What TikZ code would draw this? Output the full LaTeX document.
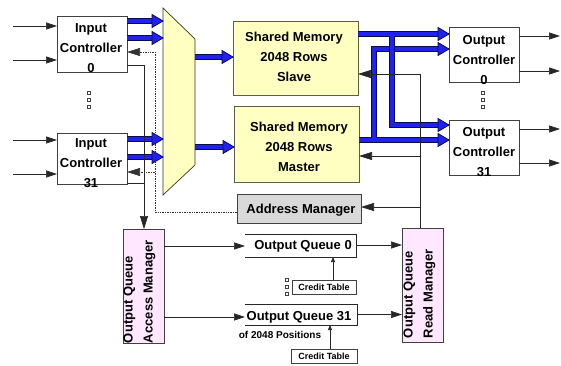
\documentclass[tikz,border=0pt]{standalone}
\usepackage{fontspec}
\setmainfont{Liberation Sans}
\usetikzlibrary{arrows.meta,calc}
\definecolor{memfill}{HTML}{FFFFC2}
\definecolor{memedge}{HTML}{5E5E45}
\definecolor{mgrfill}{HTML}{FFE8FF}
\definecolor{addrfill}{HTML}{D9D9D9}
\definecolor{busblue}{HTML}{2222EE}
\definecolor{busedge}{HTML}{0A0A50}
\begin{document}
\begin{tikzpicture}[x=1pt,y=-1pt,
  every node/.style={inner sep=0pt, outer sep=0pt},
  txt/.style={font=\fontsize{13}{20}\selectfont\bfseries, align=center},
  box/.style={draw=black!75, line width=0.7pt, fill=white},
  membox/.style={draw=memedge, line width=1pt, fill=memfill},
  mgrbox/.style={draw=black!75, line width=0.8pt, fill=mgrfill},
  wire/.style={draw=black!85, line width=0.7pt},
  tip/.style={-{Triangle[length=11pt,width=7pt]}},
  bigtip/.style={-{Triangle[length=13pt,width=8pt]}},
  smalltip/.style={-{Triangle[length=5pt,width=4pt]}},
  dotwire/.style={draw=black!80, line width=0.7pt, densely dotted},
  busout/.style={line width=6.5pt, draw=busedge, shorten >=10pt},
  busin/.style={line width=4.5pt, draw=busblue, shorten >=10pt},
  bustip/.pic={\filldraw[fill=busblue, draw=busedge, line width=0.8pt, line join=miter] (0,0) -- (-11,-6.5) -- (-11,6.5) -- cycle;},
  dotcol/.pic={\foreach \k in {0,7,14} \draw[black!75, line width=0.6pt] (-1.6,\k-1.6) rectangle (1.6,\k+1.6);}
]
\useasboundingbox (0,0) rectangle (561,365);

% ---------- blocks ----------
\node[box, minimum width=70pt, minimum height=56pt] (ic0) at (92,44) {};
\node[box, minimum width=70pt, minimum height=51pt] (ic31) at (92,158.5) {};
\filldraw[fill=memfill, draw=black!80, line width=0.7pt] (163,8) -- (195,39) -- (195,165) -- (163,195) -- cycle;
\coordinate (muxL) at (163,100);
\coordinate (muxR) at (195,100);
\node[membox, minimum width=125pt, minimum height=74pt] (slave) at (295.5,58) {};
\node[membox, minimum width=125pt, minimum height=76pt] (master) at (296.5,144) {};
\node[box, minimum width=70pt, minimum height=55pt] (oc0) at (484,54.5) {};
\node[box, minimum width=70pt, minimum height=55pt] (oc31) at (484,147.5) {};
\node[box, fill=addrfill, minimum width=124pt, minimum height=29pt] (addr) at (299,208.5) {};
\node[mgrbox, minimum width=41pt, minimum height=114pt] (am) at (143.5,286) {};
\node[mgrbox, minimum width=41pt, minimum height=114pt] (rm) at (422.5,285) {};
\node[minimum width=111pt, minimum height=23pt] (oq0) at (300.5,245.5) {};
\node[minimum width=112pt, minimum height=21pt] (oq31) at (301,314.5) {};
\draw[wire] (oq0.north west) -- (oq0.north east) -- (oq0.south east) -- (oq0.south west);
\draw[wire] (oq31.north west) -- (oq31.north east) -- (oq31.south east) -- (oq31.south west);
\node[box, minimum width=64pt, minimum height=14pt, font=\fontsize{9}{10}\selectfont\bfseries] (ct0) at (324,287) {Credit Table};
\node[box, minimum width=66pt, minimum height=14pt, font=\fontsize{9}{10}\selectfont\bfseries] (ct31) at (324,356) {Credit Table};

% ---------- ports ----------
\coordinate (lrim) at (13,0);
\coordinate (rrim) at (560,0);
\coordinate (i0a) at ([yshift=23pt]ic0.east);
\coordinate (i0b) at ([yshift=6pt]ic0.east);
\coordinate (i31a) at ([yshift=19.5pt]ic31.east);
\coordinate (i31b) at ([yshift=1.5pt]ic31.east);
\coordinate (sIn) at ([yshift=1pt]slave.west);
\coordinate (mIn) at ([yshift=-3pt]master.west);
\coordinate (sOut) at ([yshift=24pt]slave.east);
\coordinate (mOut) at ([yshift=4pt]master.east);
\coordinate (o0b) at ([yshift=5.5pt]oc0.west);
\coordinate (o31a) at ([yshift=22.5pt]oc31.west);
\coordinate (sx) at (392,0);
\coordinate (mx) at (374,0);

% ---------- external inputs and outputs ----------
\foreach \n/\a/\b in {ic0/18/-16, ic31/18.5/-15.5}{
  \draw[wire, tip] ([yshift=\a pt]\n.west -| lrim) -- ([yshift=\a pt]\n.west);
  \draw[wire, tip] ([yshift=\b pt]\n.west -| lrim) -- ([yshift=\b pt]\n.west);
}
\foreach \n/\a/\b in {oc0/18.5/-16.5, oc31/18.5/-15.5}{
  \draw[wire, tip] ([yshift=\a pt]\n.east) -- ([yshift=\a pt]\n.east -| rrim);
  \draw[wire, tip] ([yshift=\b pt]\n.east) -- ([yshift=\b pt]\n.east -| rrim);
}

% ---------- data buses ----------
\foreach \s in {i0a,i0b,i31a,i31b}{
  \draw[busout] (\s) -- (\s -| muxL);
  \draw[busin] (\s) -- (\s -| muxL);
  \pic at (\s -| muxL) {bustip};
}
\foreach \s in {sIn,mIn}{
  \draw[busout] (\s -| muxR) -- (\s);
  \draw[busin] (\s -| muxR) -- (\s);
  \pic at (\s) {bustip};
}
% master memory to both output controllers
\draw[busout] (mOut) -- (mOut -| oc31.west);
\draw[busout] (mOut -| mx) -- (mx |- o0b) -- (o0b);
\draw[busin] (mOut) -- (mOut -| oc31.west);
\draw[busin] (mOut -| mx) -- (mx |- o0b) -- (o0b);
\pic at (mOut -| oc31.west) {bustip};
\pic at (o0b) {bustip};
% slave memory to both output controllers
\draw[busout] (sOut) -- (sOut -| oc0.west);
\draw[busout] (sOut -| sx) -- (sx |- o31a) -- (o31a);
\draw[busin] (sOut) -- (sOut -| oc0.west);
\draw[busin] (sOut -| sx) -- (sx |- o31a) -- (o31a);
\pic at (sOut -| oc0.west) {bustip};
\pic at (o31a) {bustip};

% ---------- control paths ----------
\coordinate (fb) at ([xshift=-2.5pt]rm.north);
\coordinate (sfb) at ([yshift=-16pt]slave.east);
\coordinate (mfb) at ([yshift=-12pt]master.east);
\coordinate (afb) at ([yshift=1.5pt]addr.east);
\draw[wire] (fb) -- (fb |- sfb);
\draw[wire, bigtip] (fb |- sfb) -- (sfb);
\draw[wire, bigtip] (fb |- mfb) -- (mfb);
\draw[wire, bigtip] (fb |- afb) -- (afb);

\coordinate (ax) at ([xshift=0.5pt]am.north);
\coordinate (ic0o) at ([yshift=-21pt]ic0.east);
\coordinate (ic31o) at ([yshift=-24.5pt]ic31.east);
\draw[wire, bigtip] (ic0o) -- (ic0o -| ax) -- (ax);
\draw[wire] (ic31o) -- (ic31o -| ax);

\coordinate (dx) at (155,0);
\coordinate (adl) at ([yshift=-3.5pt]addr.west);
\coordinate (ic0d) at ([yshift=-8pt]ic0.east);
\coordinate (ic31d) at ([yshift=-13.5pt]ic31.east);
\draw[dotwire, bigtip] (adl) -- (adl -| dx) -- (dx |- ic0d) -- (ic0d);
\draw[dotwire, bigtip] (dx |- ic31d) -- (ic31d);

\coordinate (am1) at ([yshift=40pt]am.east);
\coordinate (am2) at ([yshift=-31pt]am.east);
\draw[wire, tip] (am1) -- (am1 -| oq0.west);
\draw[wire, tip] (am2) -- (am2 -| oq31.west);
\draw[wire, tip] ([yshift=0.5pt]oq0.east) -- ([yshift=0.5pt]oq0.east -| rm.west);
\draw[wire, tip] (oq31.east) -- (oq31.east -| rm.west);
\draw[wire, smalltip] ([xshift=9pt]ct0.north) -- ([xshift=9pt]ct0.north |- oq0.south);
\draw[wire, smalltip] ([xshift=6pt]ct31.north) -- ([xshift=6pt]ct31.north |- oq31.south);

% ---------- ellipsis marks ----------
\pic at (89,93) {dotcol};
\pic at (483,93) {dotcol};
\pic at (287,280) {dotcol};

% ---------- labels ----------
\node[txt] (ic0t) at (91,48) {Input\\Controller\\0};
\node[txt] (ic31t) at (91,163.5) {Input\\Controller\\31};
\node[txt] (slavet) at (294,56.5) {Shared Memory\\2048 Rows\\Slave};
\node[txt] (mastert) at (299,147) {Shared Memory\\2048 Rows\\Master};
\node[txt] (oc0t) at (484,60) {Output\\Controller\\0};
\node[txt] (oc31t) at (484,152) {Output\\Controller\\31};
\node[txt] (addrt) at (301,210) {Address Manager};
\node[txt] (oq0t) at (303,246) {Output Queue 0};
\node[txt] (oq31t) at (299,317.5) {Output Queue 31};
\node[font=\fontsize{10}{12}\selectfont\bfseries] (post) at (280,335) {of 2048 Positions};
\node[txt, align=left, rotate=90, anchor=west] (amt) at (139.5,343) {Output Queue\\Access Manager};
\node[txt, align=left, rotate=90, anchor=west] (rmt) at (419.5,338) {Output Queue\\Read Manager};
\end{tikzpicture}
\end{document}
